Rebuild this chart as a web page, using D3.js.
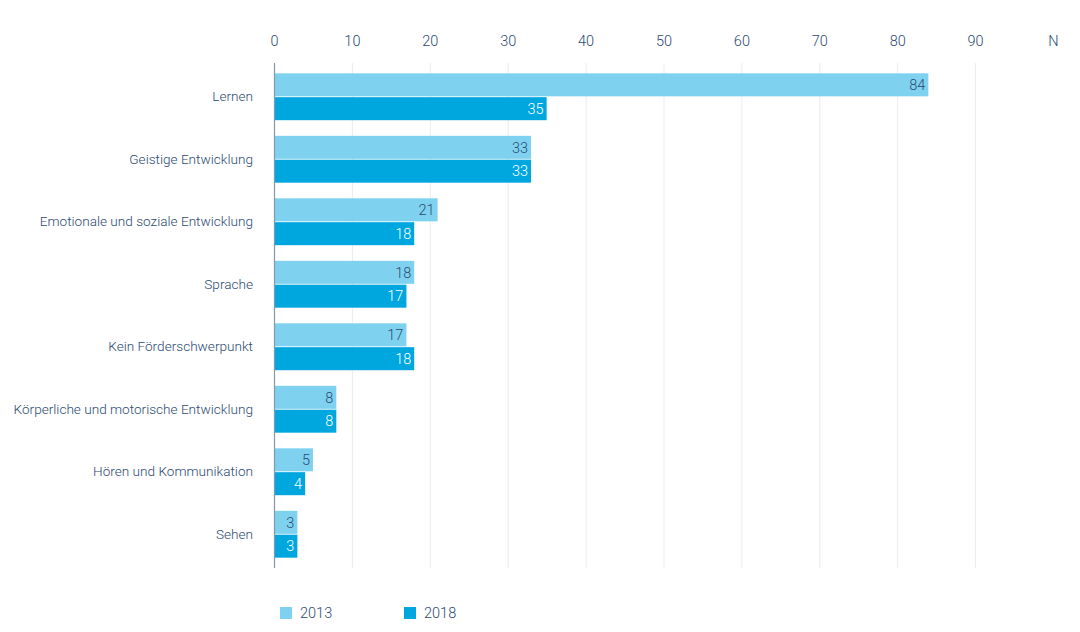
<!DOCTYPE html>
<html lang="de">
<head>
  <meta charset="utf-8">
  <title>Förderschwerpunkte 2013 und 2018</title>
  <script src="https://d3js.org/d3.v7.min.js"></script>
  <style>
    body { margin: 0; background: #fff; }
    svg text {
      font-family: "Roboto", "Liberation Sans", sans-serif;
      font-weight: 300;
      fill: #2b4a70;
    }
    .grid line { stroke: #e8ecf1; stroke-width: 1; }
  </style>
</head>
<body>
<svg width="1080" height="632"></svg>
<script>
var categories = [
  'Lernen',
  'Geistige Entwicklung',
  'Emotionale und soziale Entwicklung',
  'Sprache',
  'Kein Förderschwerpunkt',
  'Körperliche und motorische Entwicklung',
  'Hören und Kommunikation',
  'Sehen'
];
var years = ['2013', '2018'];
var values2013 = [84, 33, 21, 18, 17, 8, 5, 3];
var values2018 = [35, 33, 18, 17, 18, 8, 4, 3];
var tickValues = [0, 10, 20, 30, 40, 50, 60, 70, 80, 90];
var unitLabel = 'N';

var colors = { '2013': '#7fd2ef', '2018': '#00a7df' };
var textColors = { '2013': '#2b4a70', '2018': '#ffffff' };

var rows = categories.map((c, i) => ({ cat: c, values: { '2013': values2013[i], '2018': values2018[i] } }));

var svg = d3.select('svg');

var x = d3.scaleLinear().domain([0, 100]).range([274, 1053]);
var y = d3.scaleBand().domain(categories).range([63, 568]).paddingInner(0.25).paddingOuter(0.165);
var ySub = d3.scaleBand().domain(years).range([0, y.bandwidth()]).paddingInner(0.035);

// gridlines
svg.append('g')
  .attr('class', 'grid')
  .selectAll('line')
  .data(tickValues.slice(1))
  .join('line')
  .attr('x1', d => x(d) + 0.5)
  .attr('x2', d => x(d) + 0.5)
  .attr('y1', 63)
  .attr('y2', 568);

// top tick labels
var axisTop = svg.append('g')
  .attr('transform', 'translate(0,49)')
  .call(d3.axisTop(x).tickValues(tickValues.concat([100])).tickSize(0).tickFormat(d => d === 100 ? unitLabel : d));
axisTop.select('.domain').remove();
axisTop.selectAll('text').attr('font-size', 14.5).attr('dy', 0);

// bars
var groups = svg.append('g')
  .selectAll('g')
  .data(rows)
  .join('g')
  .attr('transform', d => `translate(0,${y(d.cat)})`);

years.forEach(yr => {
  groups.append('rect')
    .attr('x', x(0))
    .attr('y', ySub(yr))
    .attr('width', d => x(d.values[yr]) - x(0))
    .attr('height', ySub.bandwidth())
    .attr('fill', colors[yr]);

  groups.append('text')
    .attr('x', d => x(d.values[yr]) - 3)
    .attr('y', ySub(yr) + ySub.bandwidth() / 2)
    .attr('dy', '0.36em')
    .attr('text-anchor', 'end')
    .attr('font-size', 14.5)
    .style('fill', textColors[yr])
    .text(d => d.values[yr]);
});

// category labels
var axisLeft = svg.append('g')
  .attr('transform', 'translate(274,0)')
  .call(d3.axisLeft(y).tickSize(0).tickPadding(21));
axisLeft.select('.domain').remove();
axisLeft.selectAll('text').attr('font-size', 13.6);

// zero line
svg.append('line')
  .attr('x1', x(0) + 0.5).attr('x2', x(0) + 0.5)
  .attr('y1', 63).attr('y2', 568)
  .attr('stroke', '#8696ab')
  .attr('stroke-width', 1.2);

// legend
var legend = svg.append('g')
  .selectAll('g')
  .data(years)
  .join('g')
  .attr('transform', (d, i) => `translate(${280 + i * 124},607)`);
legend.append('rect')
  .attr('width', 12).attr('height', 12)
  .attr('fill', d => colors[d]);
legend.append('text')
  .attr('x', 20).attr('y', 6).attr('dy', '0.36em')
  .attr('font-size', 14.5)
  .text(d => d);
</script>
</body>
</html>
